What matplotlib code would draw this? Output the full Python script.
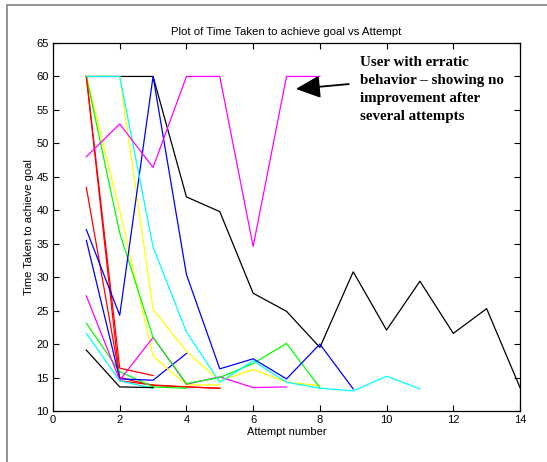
import numpy as np
import matplotlib; matplotlib.use("Agg"); import matplotlib.pyplot as plt
from matplotlib.patches import Rectangle

# time taken per attempt, one list per user (attempt numbers start at 1)
blk_a = [60, 60, 60, 42, 39.8, 27.6, 24.9, 19.5, 30.8, 22.1, 29.4, 21.6, 25.3, 13.5]
blk_b = [19.1, 13.6, 13.5]
blu_a = [37.1, 24.3, 60, 30.4, 16.3, 17.8, 14.8, 20.0, 13.3]
blu_b = [35.5, 14.8, 14.6, 18.6]
grn_a = [60, 36.6, 21, 14.1, 15.0, 17.1, 20.1, 13.5]
grn_b = [23.1, 15.9, 13.6, 13.4]
red_a = [60, 16.4, 15.3]
red_b = [60, 14.5, 13.9, 13.6, 13.4]
red_c = [43.4, 15.0, 13.8, 13.6, 13.4]
cyn_a = [60, 60, 34.5, 21.8, 14.3, 17.5, 14.3, 13.4, 13.0, 15.2, 13.3]
cyn_b = [21.6, 14.5, 13.4]
mag_a = [48, 52.9, 46.4, 60, 60, 34.6, 60, 60]
mag_b = [27.2, 14.6, 21, 14.0, 15.1, 13.5, 13.6]
yel_a = [60, 40, 18.2, 13.9, 13.9]
yel_b = [60, 60, 25.2, 18.9, 14.5, 16.2, 14.3, 13.8]

series = [(blk_a, "k"), (yel_b, "y"), (red_c, "r"), (red_b, "r"), (grn_b, "g"),
          (blu_b, "b"), (yel_a, "y"), (mag_b, "m"), (cyn_b, "c"), (blk_b, "k"),
          (grn_a, "g"), (red_a, "r"), (blu_a, "b"), (cyn_a, "c"), (mag_a, "m")]
CMAP = {"k": "#000000", "b": "#0000ff", "g": "#00ff00", "r": "#ff0000",
        "c": "#00ffff", "m": "#ff00ff", "y": "#ffff00"}

plt.rcParams["font.family"] = ["Liberation Sans", "DejaVu Sans"]
fig = plt.figure(figsize=(5.47, 4.62), dpi=100)
fig.patches.append(Rectangle((7/547, -0.05), 1.1, 1 - 5/462 + 0.05, transform=fig.transFigure,
                             fill=False, ec="#808080", lw=1.2))
ax = fig.add_axes([53/547, 1 - 411/462, 467/547, 368/462])
for ys, c in series:
    ax.plot(np.arange(1, len(ys) + 1), ys, color=CMAP[c], lw=0.9)

ax.set_xlim(0, 14); ax.set_ylim(10, 65)
ax.set_xticks(range(0, 15, 2)); ax.set_yticks(range(10, 66, 5))
ax.tick_params(direction="in", top=True, right=True, length=4, width=0.8, labelsize=8, pad=3)
for s in ax.spines.values(): s.set_linewidth(0.9)
ax.set_title("Plot of Time Taken to achieve goal vs Attempt", fontsize=8.2, pad=6)
ax.set_xlabel("Attempt number", fontsize=8, labelpad=1)
ax.set_ylabel("Time Taken to achieve goal", fontsize=8, labelpad=2)

ax.annotate("", xy=(7.2, 58.1), xytext=(8.95, 58.9),
            arrowprops=dict(arrowstyle="-|>,head_length=1.5,head_width=0.7", color="k", lw=1.3))
ax.text(9.2, 63.0, "User with erratic\nbehavior \u2013 showing no\nimprovement after\nseveral attempts",
        family=["Liberation Serif", "DejaVu Serif"], fontweight="bold", fontsize=10.8,
        ha="left", va="top", linespacing=1.5)

fig.savefig("out.png", dpi=100)
